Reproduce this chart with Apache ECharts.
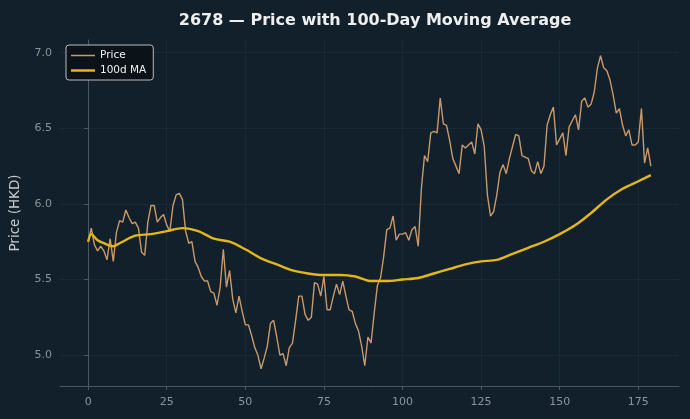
<!DOCTYPE html>
<html>
<head>
<meta charset="utf-8">
<style>
  html, body { margin: 0; padding: 0; background: #11202a; }
  #chart { width: 690px; height: 419px; }
</style>
<script src="https://cdn.jsdelivr.net/npm/echarts@6/dist/echarts.min.js"></script>
</head>
<body>
<div id="chart"></div>
<script>
// daily closing price, one value per trading day (day 0..179)
const price = [
  5.75, 5.84, 5.73, 5.69, 5.72, 5.69, 5.63, 5.77, 5.62, 5.81,
  5.89, 5.88, 5.96, 5.91, 5.87, 5.88, 5.84, 5.68, 5.66, 5.88,
  5.99, 5.99, 5.88, 5.91, 5.93, 5.86, 5.82, 5.99, 6.06, 6.07,
  6.03, 5.82, 5.74, 5.75, 5.62, 5.58, 5.52, 5.49, 5.49, 5.42,
  5.41, 5.33, 5.45, 5.70, 5.45, 5.56, 5.37, 5.28, 5.39, 5.29,
  5.20, 5.20, 5.13, 5.05, 5.00, 4.91, 4.98, 5.06, 5.21, 5.23,
  5.12, 5.00, 5.01, 4.93, 5.05, 5.08, 5.23, 5.39, 5.39, 5.27,
  5.23, 5.25, 5.48, 5.47, 5.39, 5.52, 5.30, 5.30, 5.39, 5.47,
  5.40, 5.49, 5.39, 5.30, 5.29, 5.21, 5.16, 5.06, 4.93, 5.12,
  5.08, 5.28, 5.46, 5.51, 5.65, 5.83, 5.84, 5.92, 5.76, 5.80,
  5.80, 5.81, 5.76, 5.83, 5.85, 5.72, 6.10, 6.32, 6.28, 6.47,
  6.48, 6.47, 6.70, 6.53, 6.52, 6.42, 6.30, 6.25, 6.20, 6.39,
  6.37, 6.39, 6.41, 6.33, 6.53, 6.49, 6.38, 6.06, 5.92, 5.95,
  6.06, 6.21, 6.26, 6.20, 6.30, 6.38, 6.46, 6.45, 6.32, 6.31,
  6.30, 6.22, 6.20, 6.28, 6.20, 6.25, 6.52, 6.59, 6.64, 6.39,
  6.43, 6.47, 6.32, 6.51, 6.55, 6.59, 6.49, 6.68, 6.70, 6.64,
  6.66, 6.74, 6.90, 6.98, 6.90, 6.88, 6.82, 6.72, 6.60, 6.63,
  6.52, 6.45, 6.49, 6.39, 6.39, 6.41, 6.63, 6.27, 6.37, 6.25
];

// 100-day moving average at these days
const maDays = [0, 1, 3, 5, 8, 10, 15, 20, 25, 30, 35, 40, 45, 50, 55, 60, 65, 70, 75, 80, 85, 90, 95, 100, 105, 110, 115, 120, 125, 130, 135, 140, 145, 150, 155, 160, 165, 170, 175, 179];
const maValues = [5.75, 5.80, 5.76, 5.74, 5.72, 5.74, 5.79, 5.80, 5.82, 5.84, 5.82, 5.77, 5.75, 5.70, 5.64, 5.60, 5.56, 5.54, 5.53, 5.53, 5.52, 5.49, 5.49, 5.50, 5.51, 5.54, 5.57, 5.60, 5.62, 5.63, 5.67, 5.71, 5.75, 5.80, 5.86, 5.94, 6.03, 6.10, 6.15, 6.19];

const xTicks = [0, 25, 50, 75, 100, 125, 150, 175];
const yTicks = [5.0, 5.5, 6.0, 6.5, 7.0];

const PRICE_COLOR = '#c9996b';
const MA_COLOR = '#e3b61a';
const AXIS_COLOR = '#4a585f';
const GRID_COLOR = '#1c2d36';
const LABEL_COLOR = '#8a959b';
const FONT = 'DejaVu Sans';

const chart = echarts.init(document.getElementById('chart'));
chart.setOption({
  backgroundColor: '#11202a',
  animation: false,
  textStyle: { fontFamily: FONT },
  title: {
    text: '2678 — Price with 100-Day Moving Average',
    left: 370, top: 8, textAlign: 'center',
    textStyle: { color: '#eeeeee', fontSize: 16, fontWeight: 'bold', fontFamily: FONT }
  },
  legend: {
    orient: 'vertical', left: 66, top: 45,
    backgroundColor: '#0b1318', borderColor: '#b8bcbe', borderWidth: 1, borderRadius: 3,
    padding: [5, 7, 4, 5], itemGap: 4, itemWidth: 24, itemHeight: 10,
    textStyle: { color: '#f0f0f0', fontSize: 10.5, fontFamily: FONT },
    data: [
      { name: 'Price', icon: 'path://M0,0L24,0L24,1.5L0,1.5Z', itemStyle: { color: PRICE_COLOR } },
      { name: '100d MA', icon: 'path://M0,0L24,0L24,2.5L0,2.5Z', itemStyle: { color: MA_COLOR } }
    ]
  },
  grid: { left: 60, right: 11, top: 40, bottom: 33 },
  xAxis: {
    type: 'value', min: -8.95, max: 187.95,
    axisLine: { lineStyle: { color: AXIS_COLOR } },
    axisTick: { show: true, length: 4, lineStyle: { color: AXIS_COLOR }, customValues: xTicks },
    axisLabel: { color: LABEL_COLOR, fontSize: 11, margin: 11, customValues: xTicks },
    splitLine: { show: true, lineStyle: { color: GRID_COLOR, width: 0.8 } }
  },
  yAxis: {
    type: 'value', min: 4.796, max: 7.084,
    name: 'Price (HKD)', nameLocation: 'middle', nameGap: 38, nameRotate: 90,
    nameTextStyle: { color: '#c4cbcf', fontSize: 13.5, fontFamily: FONT },
    axisLine: { show: true, lineStyle: { color: AXIS_COLOR } },
    axisTick: { show: true, length: 4, lineStyle: { color: AXIS_COLOR }, customValues: yTicks },
    axisLabel: { color: LABEL_COLOR, fontSize: 11, margin: 8, customValues: yTicks, formatter: v => v.toFixed(1) },
    splitLine: { show: true, lineStyle: { color: GRID_COLOR, width: 0.8 } }
  },
  series: [
    {
      name: 'Price', type: 'line', symbol: 'none',
      data: price.map((v, i) => [i, v]),
      lineStyle: { color: PRICE_COLOR, width: 1.4 }, itemStyle: { color: PRICE_COLOR }
    },
    {
      name: '100d MA', type: 'line', symbol: 'none', smooth: 0.3,
      data: maDays.map((d, i) => [d, maValues[i]]),
      lineStyle: { color: MA_COLOR, width: 2.4 }, itemStyle: { color: MA_COLOR }
    }
  ]
});
</script>
</body>
</html>
